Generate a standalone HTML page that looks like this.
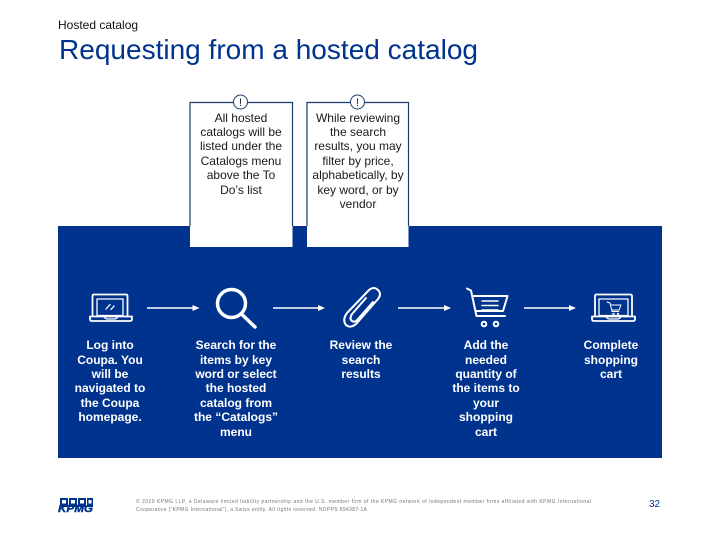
<!DOCTYPE html>
<html><head><meta charset="utf-8"><style>
html,body{margin:0;padding:0;background:#fff}
svg{display:block}
text{font-family:"Liberation Sans",sans-serif}
.n{font-size:12px;fill:#1a1a1a;text-anchor:middle}
.b{font-size:12px;font-weight:bold;fill:#fff;text-anchor:middle}
.w{fill:none;stroke:#fff;stroke-width:1.800;stroke-linecap:round;stroke-linejoin:round}
</style></head><body>
<svg width="720" height="540" viewBox="0 0 720 540" xmlns="http://www.w3.org/2000/svg">
<rect width="720" height="540" fill="#fff"/>
<text x="58" y="29" font-size="12" fill="#111">Hosted catalog</text>
<text x="59" y="59" font-size="27.500" fill="#00338d" textLength="419" lengthAdjust="spacingAndGlyphs">Requesting from a hosted catalog</text>
<rect x="58" y="226" width="604" height="232" fill="#00338d"/>

<!-- callouts -->
<g fill="#fff">
<rect x="190" y="102.500" width="102.500" height="144.500"/>
<rect x="307" y="102.500" width="101.500" height="144.500"/>
</g>
<g fill="none" stroke="#1c3d6e" stroke-width="1.200">
<path d="M190 226V102.500H292.500V226"/>
<path d="M307 226V102.500H408.500V226"/>
</g>
<g fill="#fff" stroke="#1c3d6e" stroke-width="1">
<circle cx="240.500" cy="102" r="7"/>
<circle cx="357.500" cy="102" r="7"/>
</g>
<text class="n" x="240.500" y="106" style="font-size:11px">!</text>
<text class="n" x="357.500" y="106" style="font-size:11px">!</text>

<text class="n" x="241" y="122">All hosted</text>
<text class="n" x="241" y="136">catalogs will be</text>
<text class="n" x="241" y="150">listed under the</text>
<text class="n" x="241" y="165">Catalogs menu</text>
<text class="n" x="241" y="179">above the To</text>
<text class="n" x="241" y="194">Do’s list</text>
<text class="n" x="358" y="122">While reviewing</text>
<text class="n" x="358" y="136">the search</text>
<text class="n" x="358" y="150">results, you may</text>
<text class="n" x="358" y="165">filter by price,</text>
<text class="n" x="358" y="179">alphabetically, by</text>
<text class="n" x="358" y="194">key word, or by</text>
<text class="n" x="358" y="208">vendor</text>

<!-- arrows -->
<g stroke="#fff" stroke-width="1.500" fill="#fff">
<path d="M147 308H194"/><path d="M192.500 305L199.500 308L192.500 311Z" stroke="none"/>
<path d="M273 308H320"/><path d="M318 305L325 308L318 311Z" stroke="none"/>
<path d="M398 308H446"/><path d="M444 305L451 308L444 311Z" stroke="none"/>
<path d="M524 308H571"/><path d="M569 305L576 308L569 311Z" stroke="none"/>
</g>

<!-- laptop 1 -->
<g class="w">
<path d="M92.500 316V296Q92.500 294.500 94 294.500H126Q127.500 294.500 127.500 296V316"/>
<rect x="97" y="299" width="26" height="16.500" stroke-width="1.300"/>
<path d="M90 316.500H132V319Q132 321 130 321H92Q90 321 90 319Z"/>
<path d="M104 316.500Q105 319 108 319H114Q117 319 118 316.500" stroke-width="1.300"/>
<path d="M106 309L110 304.500M111 309.500L114 306" stroke-width="1.300"/>
</g>

<!-- magnifier -->
<circle cx="231.500" cy="303.500" r="14" fill="none" stroke="#fff" stroke-width="3.500"/>
<path d="M242 314.500L255 327" stroke="#fff" stroke-width="3.500" stroke-linecap="round"/>

<!-- paperclip -->
<g fill="none" stroke="#fff" stroke-width="2" stroke-linecap="round" stroke-linejoin="round">
<path d="M378 299L357 323Q351 329 346 325Q342 320 347 313L369 290Q374 286 378 290Q382 294 378 299"/>
<path d="M366 298L352 314Q349 319 352 321Q355 323 358 319L373 302"/>
</g>

<!-- cart -->
<g class="w" style="stroke-width:2">
<path d="M467 288.500L471 290.500L476.500 316H505"/>
<path d="M473 296H507.500L503 311H476"/>
<path d="M482 301H498M482 305.500H498M482 310H498" stroke-width="1.500"/>
<circle cx="484" cy="324" r="2.300"/>
<circle cx="496" cy="324" r="2.300"/>
</g>

<!-- laptop 2 -->
<g class="w">
<path d="M595 316V296Q595 294.500 596.500 294.500H630.500Q632 294.500 632 296V316"/>
<rect x="599" y="299" width="29" height="16.500" stroke-width="1.300"/>
<path d="M592 316.500H635V319Q635 321 633 321H594Q592 321 592 319Z"/>
<path d="M606 316.500Q607 319 610 319H617Q620 319 621 316.500" stroke-width="1.300"/>
<path d="M607 302L610 303L612 311.500H619M610.500 305H621L619 310H612" stroke-width="1"/>
<circle cx="613.500" cy="314" r="0.800" stroke-width="0.800"/>
<circle cx="618" cy="314" r="0.800" stroke-width="0.800"/>
</g>

<!-- step labels -->
<text class="b" x="110" y="349">Log into</text>
<text class="b" x="110" y="364">Coupa. You</text>
<text class="b" x="110" y="378">will be</text>
<text class="b" x="110" y="392">navigated to</text>
<text class="b" x="110" y="407">the Coupa</text>
<text class="b" x="110" y="421">homepage.</text>

<text class="b" x="236" y="349">Search for the</text>
<text class="b" x="236" y="364">items by key</text>
<text class="b" x="236" y="378">word or select</text>
<text class="b" x="236" y="392">the hosted</text>
<text class="b" x="236" y="407">catalog from</text>
<text class="b" x="236" y="421">the “Catalogs”</text>
<text class="b" x="236" y="436">menu</text>

<text class="b" x="361" y="349">Review the</text>
<text class="b" x="361" y="364">search</text>
<text class="b" x="361" y="378">results</text>

<text class="b" x="486" y="349">Add the</text>
<text class="b" x="486" y="364">needed</text>
<text class="b" x="486" y="378">quantity of</text>
<text class="b" x="486" y="392">the items to</text>
<text class="b" x="486" y="407">your</text>
<text class="b" x="486" y="421">shopping</text>
<text class="b" x="486" y="436">cart</text>

<text class="b" x="611" y="349">Complete</text>
<text class="b" x="611" y="364">shopping</text>
<text class="b" x="611" y="378">cart</text>

<!-- logo -->
<g fill="#00338d">
<path d="M60 498h8v9h-8zM69 498h8v9h-8zM78 498h8v9h-8zM87 498h6v9h-6z"/>
</g>
<g fill="#fff">
<rect x="62" y="500" width="4" height="3.500"/>
<rect x="71" y="500" width="4" height="3.500"/>
<rect x="80" y="500" width="4" height="3.500"/>
<rect x="88.500" y="500" width="3" height="3.500"/>
</g>
<text x="58" y="512" font-size="10.500" font-weight="bold" font-style="italic" fill="#00338d" stroke="#00338d" stroke-width="0.400" textLength="35" lengthAdjust="spacingAndGlyphs">KPMG</text>

<!-- footer -->
<text x="136" y="503" font-size="5" fill="#777" textLength="455" lengthAdjust="spacing">© 2020 KPMG LLP, a Delaware limited liability partnership and the U.S. member firm of the KPMG network of independent member firms affiliated with KPMG International</text>
<text x="136" y="511" font-size="5" fill="#777" textLength="231" lengthAdjust="spacing">Cooperative (“KPMG International”), a Swiss entity. All rights reserved. NDPPS 894387-1A</text>
<text x="649" y="507" font-size="10" fill="#00338d">32</text>
</svg>
</body></html>
